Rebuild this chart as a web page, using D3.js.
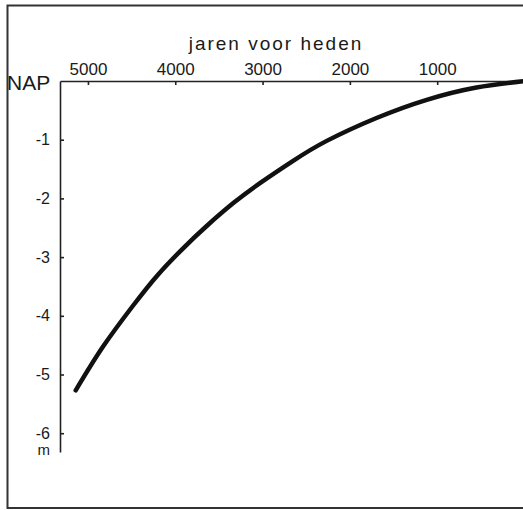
<!DOCTYPE html>
<html>
<head>
<meta charset="utf-8">
<script src="https://cdn.jsdelivr.net/npm/d3@7"></script>
<style>
    body { margin: 0; background: #fff; }
    text { font-family: "Liberation Sans", Arial, sans-serif; fill: #1a1a1a; }
</style>
</head>
<body>
<svg class="chart"></svg>
<script>
// zeespiegelrijzing: jaren voor heden -> niveau t.o.v. NAP (m)
var years  = [5140, 4825, 4480, 4210, 3910, 3640, 3335, 3030, 2650, 2265, 1695, 1120, 550, 0];
var levels = [-5.27, -4.52, -3.82, -3.32, -2.85, -2.47, -2.08, -1.74, -1.36, -1.02, -0.63, -0.32, -0.11, 0];

var xTicks = [5000, 4000, 3000, 2000, 1000];
var yTicks = [-1, -2, -3, -4, -5, -6];

var title = "jaren voor heden",
    zeroLabel = "NAP",
    unitLabel = "m";

(function () {
    'use strict';

    var width = 523, height = 510;

    var svg = d3.select(".chart")
        .attr("width", width)
        .attr("height", height);

    // outer frame, runs off the right edge
    svg.append("path")
        .attr("d", "M530,5.5H7.5V508H530")
        .attr("fill", "none")
        .attr("stroke", "#333")
        .attr("stroke-width", 2);

    var x = d3.scaleLinear().domain([5320, 0]).range([60, 524.5]);
    var y = d3.scaleLinear().domain([0, -6.32]).range([81, 452]);

    // top axis, ticks pointing down into the plot
    var xAxis = svg.append("g")
        .attr("transform", "translate(0," + y(0) + ")")
        .call(d3.axisTop(x).tickValues(xTicks).tickSize(-4).tickSizeOuter(0).tickPadding(6)
            .tickFormat(d3.format("d")));

    // left axis, ticks pointing right
    var yAxis = svg.append("g")
        .attr("transform", "translate(" + x(5320) + ",0)")
        .call(d3.axisLeft(y).tickValues(yTicks).tickSize(-4).tickSizeOuter(0).tickPadding(10)
            .tickFormat(d3.format("d")));

    [xAxis, yAxis].forEach(function (a) {
        a.select(".domain").attr("stroke", "#222").attr("stroke-width", 1.6);
        a.selectAll(".tick line").attr("stroke", "#222").attr("stroke-width", 1.6);
        a.selectAll("text")
            .attr("fill", "#1a1a1a")
            .style("font-family", "'Liberation Sans', Arial, sans-serif");
    });
    xAxis.selectAll("text").style("font-size", "17px");
    // ascii hyphen like the original
    yAxis.selectAll(".tick text")
        .style("font-size", "16px")
        .text(function (d) { return "-" + Math.abs(d); });

    svg.append("text")
        .attr("x", 276)
        .attr("y", 50)
        .attr("text-anchor", "middle")
        .style("font-size", "19px")
        .style("letter-spacing", "2px")
        .text(title);

    svg.append("text")
        .attr("x", 7)
        .attr("y", 90)
        .style("font-size", "21px")
        .text(zeroLabel);

    svg.append("text")
        .attr("x", x(5320) - 10)
        .attr("y", 455)
        .attr("text-anchor", "end")
        .style("font-size", "15px")
        .text(unitLabel);

    var points = years.map(function (d, i) { return {year: d, level: levels[i]}; });

    var line = d3.line()
        .x(function (d) { return x(d.year); })
        .y(function (d) { return y(d.level); })
        .curve(d3.curveNatural);

    svg.append("path")
        .datum(points.slice().reverse())
        .attr("d", line)
        .attr("fill", "none")
        .attr("stroke", "#111")
        .attr("stroke-width", 4.5)
        .attr("stroke-linecap", "round");
})();
</script>
</body>
</html>
